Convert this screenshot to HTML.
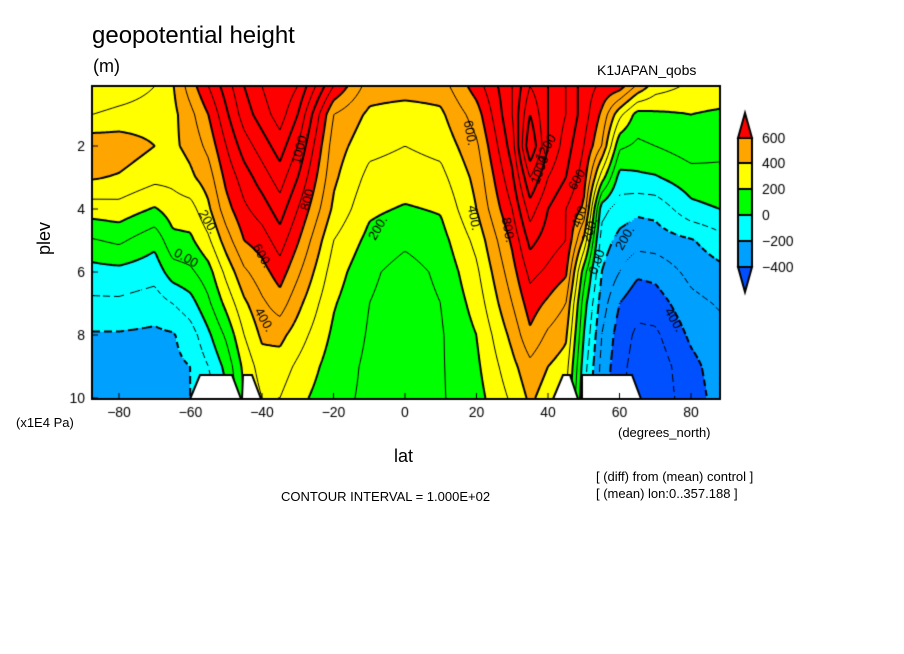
<!DOCTYPE html>
<html><head><meta charset="utf-8"><style>
body{margin:0;background:#fff;width:904px;height:654px;position:relative;overflow:hidden;font-family:"Liberation Sans",sans-serif;color:#000}
.t{position:absolute;white-space:nowrap}
</style></head><body>
<div class="t" style="left:92px;top:22px;font-size:24px">geopotential height</div>
<div class="t" style="left:93px;top:56px;font-size:18px">(m)</div>
<div class="t" style="left:597px;top:62px;font-size:14px">K1JAPAN_qobs</div>
<canvas id="c" width="904" height="654" style="position:absolute;left:0;top:0"></canvas>
<div class="t" style="left:28px;top:228px;font-size:18px;transform:rotate(-90deg)">plev</div>
<div class="t" style="left:16px;top:415px;font-size:13px">(x1E4 Pa)</div>
<div class="t" style="left:394px;top:446px;font-size:18px">lat</div>
<div class="t" style="left:618px;top:425px;font-size:13px">(degrees_north)</div>
<div class="t" style="left:281px;top:489px;font-size:13px">CONTOUR INTERVAL = 1.000E+02</div>
<div class="t" style="left:596px;top:469px;font-size:13px">[ (diff) from (mean) control ]</div>
<div class="t" style="left:596px;top:486px;font-size:13px">[ (mean) lon:0..357.188 ]</div>
<script>
const lats=[-87.5,-80,-70,-65,-60,-55,-50,-45,-40,-35,-30,-20,-10,0,10,20,30,35,40,45,50,55,60,65,70,80,88];
const plevs=[0.1,1,2,3,4,5,6,7,8,9,10];
const values=[
[200,300,470,410,250,90,-40,-120,-210,-250,-260],
[230,330,460,390,260,120,-30,-120,-210,-240,-250],
[300,350,400,330,190,30,-60,-150,-220,-230,-230],
[390,370,380,330,250,170,50,-100,-210,-220,-220],
[550,470,430,380,260,180,80,-40,-150,-200,-200],
[700,600,530,450,380,280,160,80,-20,-100,-150],
[850,780,700,630,560,450,330,230,120,30,-20],
[1000,950,850,750,680,600,480,380,300,230,200],
[1100,1050,950,850,750,650,560,480,420,350,300],
[1200,1150,1050,950,850,750,650,550,430,350,300],
[1100,1000,900,800,700,610,520,430,350,280,230],
[700,500,450,420,380,300,250,210,180,150,130],
[450,380,330,270,220,170,120,100,90,80,80],
[450,350,300,250,190,120,60,50,50,50,50],
[450,380,330,270,210,160,120,100,90,90,90],
[650,550,480,430,400,330,280,240,200,180,160],
[900,900,850,780,700,620,560,500,430,370,320],
[1100,1200,1300,1100,950,830,730,650,580,470,420],
[1000,1000,1000,900,800,750,680,580,480,400,350],
[900,900,850,800,700,700,620,500,420,350,300],
[750,750,700,650,580,380,150,50,0,-50,-80],
[680,580,500,250,-60,-150,-200,-250,-300,-330,-350],
[650,330,120,-40,-150,-230,-300,-400,-450,-470,-480],
[480,160,80,-20,-180,-260,-380,-470,-520,-540,-550],
[350,180,100,-10,-170,-250,-370,-450,-520,-560,-560],
[280,200,150,60,-30,-210,-270,-330,-380,-430,-450],
[280,180,120,80,0,-140,-230,-290,-330,-350,-360]];
const levels=[-400,-200,0,200,400,600];
const colors=['#0050ff','#00a0ff','#00ffff','#00ff00','#ffff00','#ffa500','#ff0000'];
const xLabels=[-80,-60,-40,-20,0,20,40,60,80];
const yLabels=[2,4,6,8,10];
const X0=92,X1=720,Y0=86,Y1=399;
const xs=lat=>405+lat*3.575;
const ys=p=>83+31.5*p;
function seg(arr,v){let i=0;while(i<arr.length-2&&v>arr[i+1])i++;let t=(v-arr[i])/(arr[i+1]-arr[i]);return [i,Math.max(0,Math.min(1,t))];}
function field(lat,p){const [i,a]=seg(lats,lat),[j,b]=seg(plevs,p);
return values[i][j]*(1-a)*(1-b)+values[i+1][j]*a*(1-b)+values[i][j+1]*(1-a)*b+values[i+1][j+1]*a*b;}
function colorOf(v){let k=0;while(k<levels.length&&v>=levels[k])k++;return colors[k];}
const c=document.getElementById('c'),g=c.getContext('2d');
const S=2,nx=Math.ceil((X1-X0)/S),ny=Math.ceil((Y1-Y0)/S);
const lat=x=>(x-405)/3.575,pl=y=>(y-83)/31.5;
const F=[];
for(let i=0;i<=nx;i++){F[i]=[];for(let j=0;j<=ny;j++)F[i][j]=field(lat(X0+i*S),pl(Y0+j*S));}
for(let i=0;i<nx;i++)for(let j=0;j<ny;j++){g.fillStyle=colorOf(F[i][j]*0.25+F[i+1][j]*0.25+F[i][j+1]*0.25+F[i+1][j+1]*0.25);g.fillRect(X0+i*S,Y0+j*S,S,S);}
g.strokeStyle='#000';
for(let L=-600;L<=1300;L+=100){
 g.lineWidth=(L%200===0)?2:1;g.beginPath();
 for(let i=0;i<nx;i++)for(let j=0;j<ny;j++){
  if(L<0&&((i+j)>>1)%3===0)continue;
  const x=X0+i*S,y=Y0+j*S,a=F[i][j],b=F[i+1][j],cc=F[i+1][j+1],d=F[i][j+1];
  const pts=[];
  const e=(v1,v2,x1,y1,x2,y2)=>{if((v1<L)!==(v2<L)){const t=(L-v1)/(v2-v1);pts.push([x1+(x2-x1)*t,y1+(y2-y1)*t]);}};
  e(a,b,x,y,x+S,y);e(b,cc,x+S,y,x+S,y+S);e(cc,d,x+S,y+S,x,y+S);e(d,a,x,y+S,x,y);
  for(let k=0;k+1<pts.length;k+=2){g.moveTo(pts[k][0],pts[k][1]);g.lineTo(pts[k+1][0],pts[k+1][1]);}
 }
 g.stroke();
}
g.fillStyle='#fff';g.strokeStyle='#000';g.lineWidth=2;
[[[190,399],[200,375],[232,375],[241,399]],[[242,399],[243,375],[252,375],[261,399]],[[553,399],[563,375],[570,375],[578,399]],[[582,399],[582,375],[632,375],[641,399]]].forEach(pp=>{g.beginPath();g.moveTo(pp[0][0],pp[0][1]);pp.slice(1).forEach(q=>g.lineTo(q[0],q[1]));g.closePath();g.fill();g.stroke();});
g.lineWidth=2;g.strokeRect(X0,Y0,X1-X0,Y1-Y0);
g.font='14px "Liberation Sans",sans-serif';g.fillStyle='#000';g.lineWidth=1;
xLabels.forEach(v=>{const x=xs(v);g.beginPath();g.moveTo(x,Y1);g.lineTo(x,Y1-6);g.stroke();g.textAlign='center';g.fillText(String(v).replace('-','\u2212'),x,Y1+18);});
yLabels.forEach(v=>{const y=ys(v);g.beginPath();g.moveTo(X0,y);g.lineTo(X0+6,y);g.stroke();g.textAlign='right';g.fillText(v,X0-7,y+5);});
g.textAlign='center';g.font='13px "Liberation Sans",sans-serif';
[['1000.',300,148,-75],['800.',308,198,-75],['600.',262,256,60],['400.',264,320,60],['200.',208,222,60],['0.00',186,258,30],['200.',378,228,-60],['400.',474,218,80],['600.',470,133,80],['800.',508,230,80],['1000',540,170,-70],['1200',546,148,-60],['600.',578,178,-60],['400.',580,215,-70],['200.',590,230,-70],['0.00',597,262,-70],['200.',625,238,-60],['400.',674,320,60]].forEach(l=>{g.save();g.translate(l[1],l[2]);g.rotate(l[3]*Math.PI/180);g.fillText(l[0],0,4);g.restore();});
const cbx=738,cbw=14,segTop=[138,163,189,215,241,267];
g.lineWidth=2;
g.fillStyle=colors[6];g.beginPath();g.moveTo(cbx+cbw/2,113);g.lineTo(cbx+cbw,138);g.lineTo(cbx,138);g.closePath();g.fill();g.stroke();
for(let k=0;k<5;k++){g.fillStyle=colors[5-k];g.fillRect(cbx,segTop[k],cbw,segTop[k+1]-segTop[k]);g.strokeRect(cbx,segTop[k],cbw,segTop[k+1]-segTop[k]);}
g.fillStyle=colors[0];g.beginPath();g.moveTo(cbx,267);g.lineTo(cbx+cbw,267);g.lineTo(cbx+cbw/2,292);g.closePath();g.fill();g.stroke();
g.fillStyle='#000';g.textAlign='left';g.font='14px "Liberation Sans",sans-serif';
[600,400,200,0,-200,-400].forEach((v,k)=>g.fillText(String(v).replace('-','\u2212'),762,segTop[k]+5));
</script>
</body></html>
